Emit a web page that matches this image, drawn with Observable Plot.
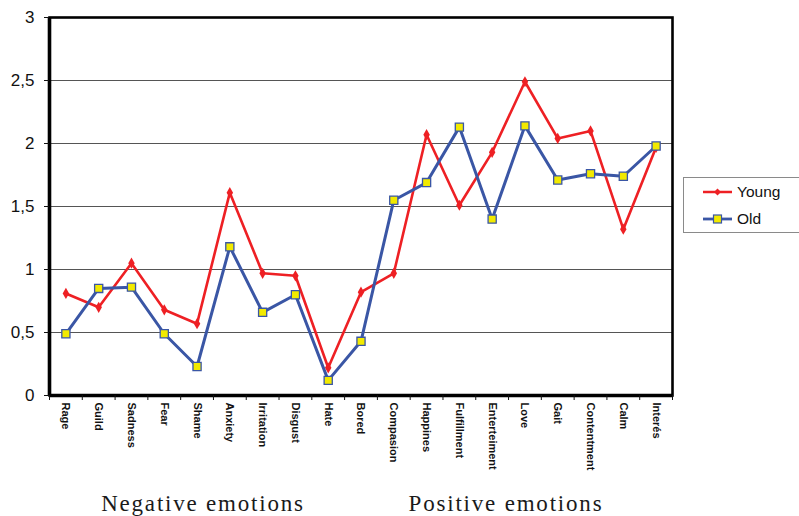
<!DOCTYPE html>
<html>
<head>
<meta charset="utf-8">
<script src="https://cdn.jsdelivr.net/npm/d3@7"></script>
<script src="https://cdn.jsdelivr.net/npm/@observablehq/plot@0.6"></script>
<style>
  html, body { margin: 0; padding: 0; background: #fff; }
  #wrap { position: relative; width: 799px; height: 516px; overflow: hidden; font-family: "Liberation Sans", Arial, sans-serif; }
  #chart { position: absolute; left: 0; top: 0; }
  .legend { position: absolute; left: 683px; top: 177px; width: 130px; height: 56px; border: 1.5px solid #8a8a8a; box-sizing: border-box; background: #fff; }
  .legend .row { position: absolute; left: 18px; display: flex; align-items: center; font-size: 15.5px; color: #111; }
  .legend svg { margin-right: 4px; }
  .group { position: absolute; top: 491px; font-family: "Liberation Serif", "Times New Roman", serif; font-size: 23px; letter-spacing: 1.8px; color: #1a1a1a; white-space: nowrap; transform: translateX(-50%); }
</style>
</head>
<body>
<div id="wrap">
  <div id="chart"></div>
  <div class="legend">
    <div class="row" style="top:5px"><svg width="31" height="12"><line x1="1" y1="6" x2="30" y2="6" stroke="#ee2024" stroke-width="2.5"/><path d="M15.5 2.5 L19 6 L15.5 9.5 L12 6 Z" fill="#ee2024"/></svg><span>Young</span></div>
    <div class="row" style="top:32px"><svg width="31" height="12"><line x1="1" y1="6" x2="30" y2="6" stroke="#3a56a5" stroke-width="2.8"/><rect x="11.5" y="2" width="8" height="8" fill="#f2ea00" stroke="#3a56a5" stroke-width="1.2"/></svg><span>Old</span></div>
  </div>
  <div class="group" id="neg" style="left:203px">Negative emotions</div>
  <div class="group" id="pos" style="left:506px">Positive emotions</div>
</div>
<script>
const categories = ["Rage","Guild","Sadness","Fear","Shame","Anxiety","Irritation","Disgust","Hate","Bored","Compasion","Happines","Fulfillment","Enterteiment","Love","Gait","Contentment","Calm","Interés"];
const young = [0.81,0.70,1.05,0.68,0.57,1.61,0.97,0.95,0.22,0.82,0.97,2.07,1.51,1.93,2.49,2.04,2.10,1.32,1.97];
const old   = [0.49,0.85,0.86,0.49,0.23,1.18,0.66,0.80,0.12,0.43,1.55,1.69,2.13,1.40,2.14,1.71,1.76,1.74,1.98];
const yTicks = [0,0.5,1,1.5,2,2.5,3];

const youngData = categories.map((c,i) => ({i, c, v: young[i]}));
const oldData = categories.map((c,i) => ({i, c, v: old[i]}));
const pos = d => d.i + 0.5;

const chart = Plot.plot({
  width: 799,
  height: 516,
  marginLeft: 49,
  marginRight: 127,
  marginTop: 17,
  marginBottom: 121,
  style: { fontFamily: "'Liberation Sans', Arial, sans-serif", color: "#111", background: "transparent" },
  x: { type: "linear", domain: [0, categories.length] },
  y: { domain: [0, 3] },
  marks: [
    Plot.gridY(yTicks.slice(1, -1), { stroke: "#555", strokeOpacity: 1, strokeWidth: 1 }),
    Plot.line(youngData, { x: pos, y: "v", stroke: "#ee2024", strokeWidth: 2.6 }),
    Plot.dot(youngData, { x: pos, y: "v", symbol: "diamond", r: 3.4, fill: "#ee2024" }),
    Plot.line(oldData, { x: pos, y: "v", stroke: "#3a56a5", strokeWidth: 3 }),
    Plot.dot(oldData, { x: pos, y: "v", symbol: "square", r: 4.6, fill: "#f2ea00", stroke: "#3a56a5", strokeWidth: 1.3 }),
    Plot.frame({ stroke: "#000", strokeWidth: 2.6 }),
    Plot.ruleY([0], { stroke: "#000", strokeWidth: 3.6 }),
    Plot.ruleX([0], { stroke: "#000", strokeWidth: 3.6 }),
    Plot.axisY({ ticks: yTicks, tickFormat: d => String(d).replace(".", ","), tickSize: 5, tickPadding: 10, fontSize: 17, label: null }),
    Plot.axisX({ ticks: d3.range(categories.length + 1), tickFormat: () => "", tickSize: 5, label: null }),
    Plot.axisX({ ticks: categories.map((c,i) => i + 0.5), tickFormat: v => categories[Math.floor(v)], tickSize: 0, tickPadding: 7, tickRotate: 90, fontSize: 11, fontWeight: "bold", label: null, style: { letterSpacing: "0.7px" } })
  ]
});
document.getElementById("chart").appendChild(chart);
</script>
</body>
</html>
